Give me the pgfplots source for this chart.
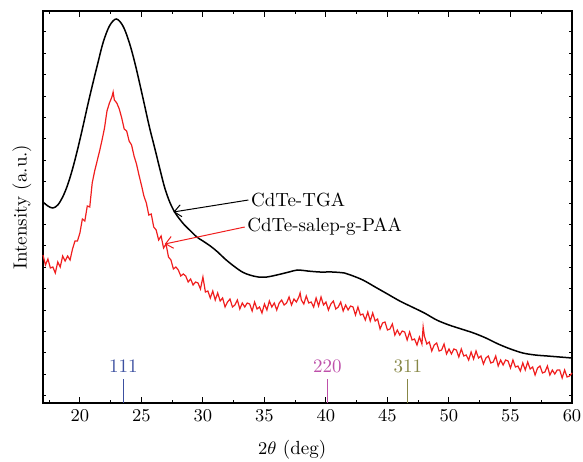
\documentclass[border=0pt]{standalone}
\usepackage{pgfplots}
\pgfplotsset{compat=1.18}
\usetikzlibrary{arrows.meta}
\definecolor{hklblue}{RGB}{60,80,160}
\definecolor{hklmag}{RGB}{190,80,170}
\definecolor{hklolive}{RGB}{135,135,70}
\definecolor{xrdred}{RGB}{240,30,30}

\begin{document}
\begin{tikzpicture}
\begin{axis}[
  at={(0,0)}, anchor=south west,
  scale only axis, width=264.5pt, height=196pt,
  xmin=17, xmax=60, ymin=0, ymax=392,
  xtick={20,25,...,60},
  minor xtick={17.5,22.5,...,57.5},
  ytick={-50},
  minor ytick={7.3,28.7,...,372},
  tick align=inside,
  major tick length=3pt, minor tick length=1.6pt,
  axis line style={line width=0.7pt},
  every tick/.style={black, line width=0.5pt},
  ticklabel style={font=\fontsize{9}{11}\selectfont},
  xlabel={$2\theta$ (deg)},
  ylabel={Intensity (a.u.)},
  every axis x label/.style={at={(axis description cs:0.471,-0.12)}, anchor=center, font=\fontsize{9.5}{11}\selectfont},
  every axis y label/.style={at={(axis description cs:-0.04,0.5)}, rotate=90, anchor=center, font=\fontsize{9.5}{11}\selectfont},
  clip=false,
]
% CdTe-salep-g-PAA (noisy)
\addplot[xrdred, line width=0.6pt, mark=none] coordinates {
(17.0,148)(17.2,138)(17.4,144)(17.6,135)(17.8,136)(18.0,130)(18.2,141)(18.4,136)(18.6,147)(18.8,142)
(19.0,147)(19.2,143)(19.4,154)(19.6,162)(19.8,162)(20.0,170)(20.2,184)(20.4,182)(20.6,197)(20.8,196)
(21.0,220)(21.2,232)(21.4,242)(21.6,252)(21.8,263)(22.0,275)(22.2,292)(22.4,300)(22.6,306)(22.7,311)
(22.8,303)(23.0,300)(23.2,294)(23.4,285)(23.6,274)(23.8,272)(24.0,262)(24.2,258)(24.4,247)(24.6,239)
(24.8,228)(25.0,218)(25.2,207)(25.4,200)(25.6,188)(25.8,189)(26.0,176)(26.2,173)(26.4,163)(26.6,167)
(26.8,155)(27.0,159)(27.2,146)(27.4,143)(27.6,134)(27.8,136)(28.0,133)(28.2,127)(28.4,129)(28.6,127)
(28.8,121)(29.0,124)(29.2,118)(29.4,121)(29.6,120)(29.8,114)(30.0,126)(30.2,111)(30.4,112)(30.6,105)
(30.8,112)(31.0,103)(31.2,110)(31.4,102)(31.6,105)(31.8,96)(32.0,101)(32.2,104)(32.4,96)(32.6,98)
(32.8,103)(33.0,94)(33.2,100)(33.4,96)(33.6,100)(33.8,99)(34.0,92)(34.2,101)(34.4,94)(34.6,96)
(34.8,90)(35.0,99)(35.2,93)(35.4,102)(35.6,96)(35.8,100)(36.0,93)(36.2,100)(36.4,103)(36.6,98)
(36.8,100)(37.0,106)(37.2,98)(37.4,104)(37.6,101)(37.8,106)(37.9,110)(38.0,103)(38.2,99)(38.4,107)
(38.6,100)(38.8,101)(39.0,96)(39.2,105)(39.4,97)(39.6,106)(39.8,98)(40.0,101)(40.2,93)(40.4,99)
(40.6,102)(40.8,94)(41.0,96)(41.2,101)(41.4,92)(41.6,98)(41.8,93)(42.0,97)(42.2,96)(42.4,88)
(42.6,96)(42.8,88)(43.0,89)(43.2,83)(43.4,91)(43.6,82)(43.8,90)(44.0,82)(44.2,84)(44.4,74)
(44.6,80)(44.8,81)(45.0,73)(45.2,74)(45.4,79)(45.6,68)(45.8,73)(46.0,68)(46.2,72)(46.4,71)
(46.6,63)(46.8,71)(47.0,63)(47.2,64)(47.4,58)(47.6,66)(47.8,59)(47.9,76)(48.0,67)(48.2,59)
(48.4,61)(48.6,52)(48.8,58)(49.0,60)(49.2,52)(49.4,53)(49.6,59)(49.8,49)(50.0,54)(50.2,49)
(50.4,54)(50.6,53)(50.8,46)(51.0,54)(51.2,47)(51.4,48)(51.6,43)(51.8,51)(52.0,44)(52.2,52)
(52.4,45)(52.6,47)(52.8,39)(53.0,45)(53.2,47)(53.4,40)(53.6,41)(53.8,47)(54.0,37)(54.2,43)
(54.4,38)(54.6,43)(54.8,42)(55.0,35)(55.2,43)(55.4,36)(55.6,37)(55.8,32)(56.0,40)(56.2,33)
(56.4,41)(56.6,34)(56.8,36)(57.0,28)(57.2,35)(57.4,37)(57.6,30)(57.8,31)(58.0,37)(58.2,28)
(58.4,33)(58.6,29)(58.8,33)(59.0,33)(59.2,25)(59.4,33)(59.6,26)(59.8,27)(60.0,30)
};
% CdTe-TGA (smooth)
\addplot[black, line width=0.75pt, mark=none, smooth, tension=0.55] coordinates {
(17,201)(17.4,197)(17.8,195)(18.2,198)(18.6,206)(19,218)(19.4,234)(19.8,253)(20.2,274)(20.6,296)
(21,317)(21.5,342)(21.9,361)(22.4,377)(22.95,384)(23.5,377)(24,361)(24.45,341)(24.85,320)(25.25,298)
(25.65,276)(26.1,254)(26.5,234)(26.9,215)(27.3,201)(27.7,191)(28.1,184)(28.5,178)(29,172)(29.5,166)
(30,162)(30.6,157)(31.2,151)(31.8,144)(32.5,137)(33.2,131)(33.8,128)(34.5,126)(35.2,126)(36,128)
(37,131)(37.7,133)(38.5,132)(39.5,131)(40.5,131)(41.5,130)(42,128)(43,123)(44,116)(45,109)
(46,102)(47,96)(48,90)(49,83)(50,78)(51,74)(52,70)(53,65)(54,59)(55,54)(56,50)(57,48)
(58,47)(59,46)(60,45)
};
% reflection markers
\addplot[hklblue, line width=0.6pt] coordinates {(23.53,0)(23.53,24)};
\addplot[hklmag, line width=0.6pt] coordinates {(40.11,0)(40.11,24)};
\addplot[hklolive, line width=0.6pt] coordinates {(46.66,0)(46.66,24)};
\node[hklblue, font=\fontsize{9.5}{11}\selectfont] at (axis cs:23.53,37) {111};
\node[hklmag, font=\fontsize{9.5}{11}\selectfont] at (axis cs:40.11,37) {220};
\node[hklolive, font=\fontsize{9.5}{11}\selectfont] at (axis cs:46.66,37) {311};
% annotations
\draw[black, line width=0.5pt, -{Straight Barb[length=3.5pt,width=6pt]}] (axis cs:33.7,203) -- (axis cs:27.6,191);
\node[anchor=west, inner sep=0.5pt, font=\fontsize{9.5}{11}\selectfont] at (axis cs:33.8,203) {CdTe-TGA};
\draw[xrdred, line width=0.5pt, -{Straight Barb[length=3.5pt,width=6pt]}] (axis cs:33.4,176) -- (axis cs:26.9,159);
\node[anchor=west, inner sep=0.5pt, font=\fontsize{9.5}{11}\selectfont] at (axis cs:33.5,176) {CdTe-salep-g-PAA};
\end{axis}
\pgfresetboundingbox
\useasboundingbox (-21.5pt,-29pt) rectangle (270pt,201.5pt);
\end{tikzpicture}
\end{document}
